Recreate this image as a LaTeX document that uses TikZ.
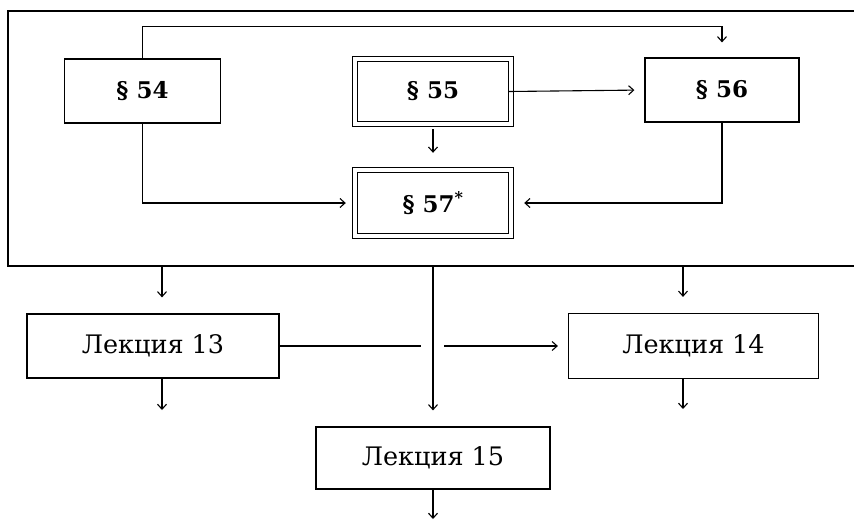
\documentclass[tikz,border=0pt]{standalone}
\usepackage{fontspec}
\setmainfont{DejaVu Serif}
\usetikzlibrary{arrows.meta}
\begin{document}
\begin{tikzpicture}[x=1pt,y=-1pt,
  box/.style={draw,line width=1.2pt,minimum width=156pt,minimum height=64pt,inner sep=0pt,
    font=\bfseries\fontsize{23}{23}\selectfont},
  ibox/.style={box,line width=1.4pt,minimum width=151pt,minimum height=60pt},
  outer/.style={line width=0.9pt},
  lecture/.style={draw,line width=1.2pt,inner sep=0pt,font=\fontsize{25.5}{25.5}\selectfont},
  link/.style={line width=1.1pt,-{Straight Barb[length=5pt,width=9pt]}},
  plain/.style={line width=1.1pt}]
\useasboundingbox (0,0) rectangle (854,520);
% outer frame, running past the right edge
\begin{scope}
  \clip (0,0) rectangle (854,520);
  \node[draw,line width=1.6pt,minimum width=862pt,minimum height=255pt,inner sep=0pt] (frame) at (439,138.5) {};
\end{scope}

% paragraphs
\node[box] (s54) at (142.5,91) {§ 54};
\node[ibox] (s55) at (433,91.5) {§ 55};
\node[box,minimum width=154pt] (s56) at (722,90) {§ 56};
\node[ibox,minimum height=61pt] (s57) at (433,203) {§ 57\textsuperscript{*}};
% second outline of the framed paragraphs
\draw[outer] ([shift={(-4,4.5)}]s55.south west) rectangle ([shift={(4,-4.5)}]s55.north east);
\draw[outer] ([shift={(-4,4)}]s57.south west) rectangle ([shift={(4,-4.5)}]s57.north east);

% lectures
\node[lecture,minimum width=252pt,minimum height=64pt] (l13) at (153,346) {Лекция 13};
\node[lecture,minimum width=250pt,minimum height=65pt] (l14) at (693.5,346) {Лекция 14};
\node[lecture,minimum width=234pt,minimum height=62pt] (l15) at (433,458) {Лекция 15};

% links inside the frame
\draw[link,shorten >=15pt] (s54.north) -- ++(0,-32) -| (s56.north);
\draw[link,shorten >=10pt] (s55.east) -- (s56.west);
\draw[link,shorten <=7pt,shorten >=19pt] (s55.south) -- (s57.north);
\draw[link,shorten >=11pt] (s54.south) |- (s57.west);
\draw[link,shorten >=15pt] (s56.south) |- (s57.east);

% links leaving the frame
\coordinate (f13) at (162,266);
\coordinate (f14) at (683,266);
\coordinate (f15) at (433,266);
\draw[link,shorten >=16pt] (f13) -- (f13 |- l13.north);
\draw[link,shorten >=16pt] (f14) -- (f14 |- l14.north);
\draw[link,shorten >=16pt] (f15) -- (l15.north);

% lecture 13 to lecture 14, broken where it crosses
\coordinate (gapL) at (421,346);
\coordinate (gapR) at (444,346);
\draw[plain] (l13.east) -- (gapL);
\draw[link,shorten >=10pt] (gapR) -- (l14.west);

% outgoing arrows below the lectures
\coordinate (e13) at (162,410);
\coordinate (e14) at (683,409);
\coordinate (e15) at (433,519);
\draw[link] (l13.south -| e13) -- (e13);
\draw[link] (l14.south -| e14) -- (e14);
\draw[link] (l15.south) -- (e15);
\end{tikzpicture}
\end{document}
